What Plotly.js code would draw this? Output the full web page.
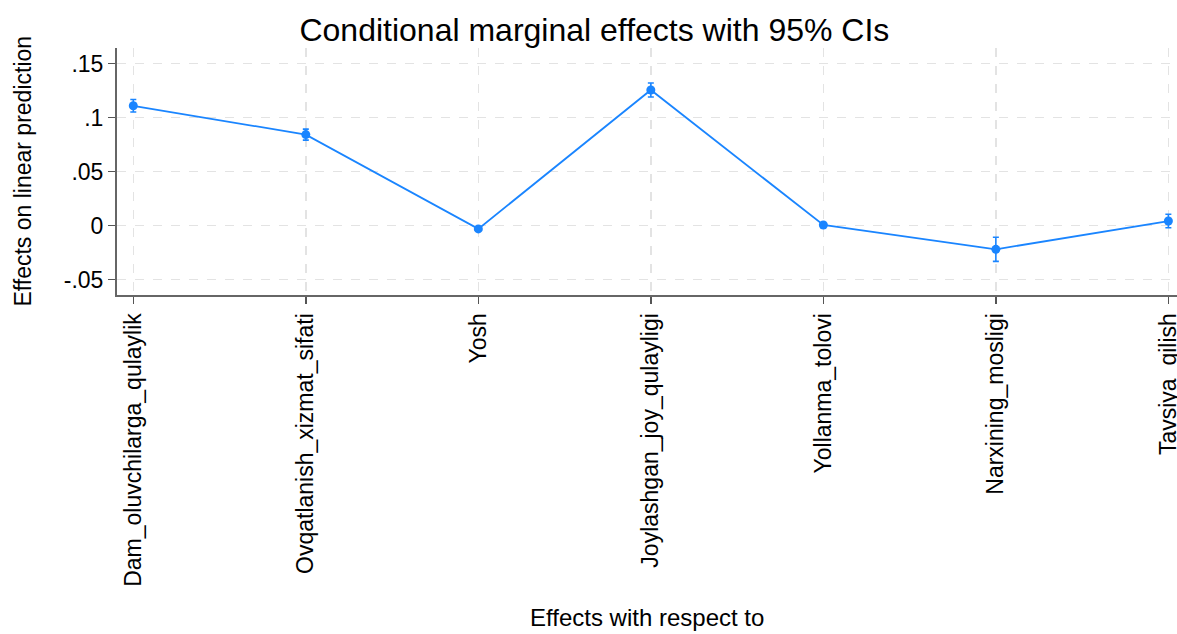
<!DOCTYPE html>
<html>
<head>
<meta charset="utf-8">
<script src="https://cdn.plot.ly/plotly-3.0.1.min.js"></script>
<style>html,body{margin:0;padding:0;background:#fff;}#chart{width:1177px;height:634px;}</style>
</head>
<body>
<div id="chart"></div>
<script>
const categories = ["Dam_oluvchilarga_qulaylik","Ovqatlanish_xizmat_sifati","Yosh","Joylashgan_joy_qulayligi","Yollanma_tolovi","Narxining_mosligi","Tavsiya_qilish"];
const effects = [0.111, 0.0843, -0.003, 0.1256, 0.0006, -0.0219, 0.0043];
const ciHalf = [0.0058, 0.0051, 0.0010, 0.0065, 0.0008, 0.0112, 0.0062];
const yTickVals = [-0.05, 0, 0.05, 0.1, 0.15];
const yTickText = ["-.05", "0", ".05", ".1", ".15"];

const blue = "#1A85FF";
const idx = categories.map((c, i) => i);

const trace = {
  type: "scatter",
  mode: "lines+markers",
  x: idx,
  y: effects,
  line: {color: blue, width: 1.8},
  marker: {color: blue, size: 9},
  error_y: {type: "data", array: ciHalf, visible: true, color: blue, thickness: 1.6, width: 3},
  hoverinfo: "skip"
};

const font = "Liberation Sans, Arial, sans-serif";
const layout = {
  width: 1177, height: 634,
  paper_bgcolor: "#fff", plot_bgcolor: "#fff",
  margin: {l: 117, r: 0, t: 48, b: 339},
  showlegend: false,
  title: {text: "Conditional marginal effects with 95% CIs", font: {family: font, size: 32, color: "#000"}, x: 0.505, xanchor: "center", y: 0.953, yanchor: "middle"},
  xaxis: {
    range: [-0.0945, 6.05],
    tickmode: "array", tickvals: idx, ticktext: categories,
    tickangle: -90,
    ticklabeloverflow: "allow",
    tickfont: {family: font, size: 23, color: "#000"},
    ticks: "outside", ticklen: 7, tickcolor: "#555", tickwidth: 1.5,
    showline: true, linecolor: "#666", linewidth: 2,
    showgrid: true, gridcolor: "#e3e3e3", griddash: "dash", gridwidth: 1.5,
    zeroline: false
  },
  yaxis: {
    range: [-0.0642, 0.1645],
    tickmode: "array", tickvals: yTickVals, ticktext: yTickText,
    tickfont: {family: font, size: 23, color: "#000"},
    ticks: "outside", ticklen: 7, tickcolor: "#555", tickwidth: 1.5,
    showline: true, linecolor: "#666", linewidth: 2,
    showgrid: true, gridcolor: "#e3e3e3", griddash: "dash", gridwidth: 1.5,
    zeroline: false
  },
  annotations: [
    {text: "Effects with respect to", xref: "paper", yref: "paper", x: 0.5, y: -1.306,
     xanchor: "center", yanchor: "middle", showarrow: false,
     font: {family: font, size: 24, color: "#000"}},
    {text: "Effects on linear prediction", xref: "paper", yref: "paper", x: -0.0896, y: 0.5,
     xanchor: "center", yanchor: "middle", textangle: -90, showarrow: false,
     font: {family: font, size: 23, color: "#000"}}
  ]
};

Plotly.newPlot("chart", [trace], layout, {displayModeBar: false, staticPlot: true});
</script>
</body>
</html>
